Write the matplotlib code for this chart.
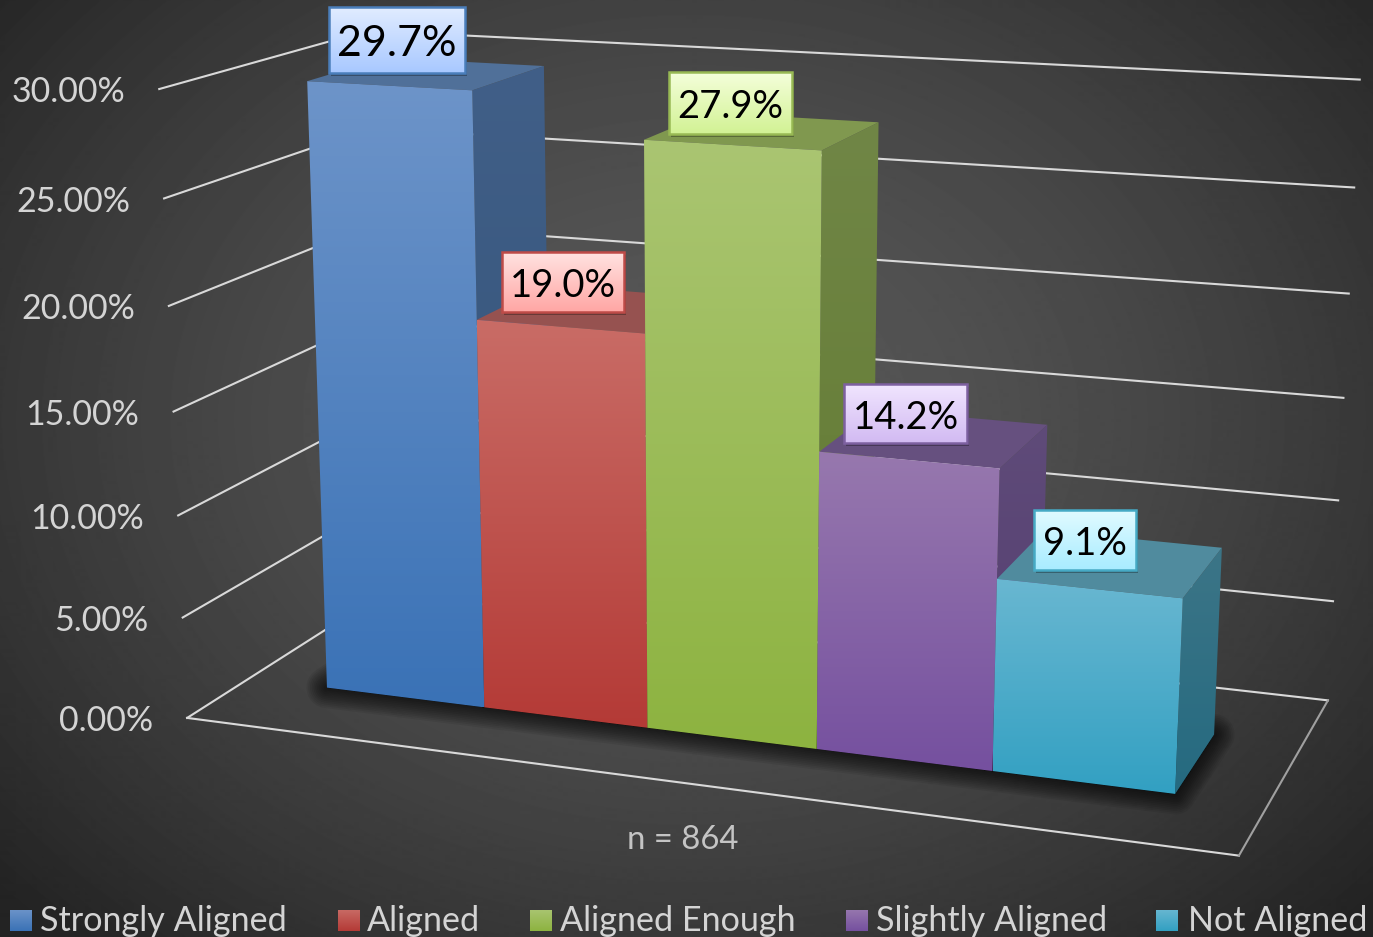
import numpy as np
import matplotlib
matplotlib.use("Agg")
import matplotlib.pyplot as plt
from matplotlib.colors import to_rgb
from matplotlib.patches import Polygon, Rectangle

plt.rcParams['font.family'] = ['Lato', 'DejaVu Sans']

categories = ["Strongly Aligned", "Aligned", "Aligned Enough", "Slightly Aligned", "Not Aligned"]
values = [29.7, 19.0, 27.9, 14.2, 9.1]
value_labels = ["29.7%", "19.0%", "27.9%", "14.2%", "9.1%"]
ticks = [0, 5, 10, 15, 20, 25, 30]
tick_labels = ["0.00%", "5.00%", "10.00%", "15.00%", "20.00%", "25.00%", "30.00%"]
note = "n = 864"

# (front top, front bottom, side top, side bottom, top face)
bar_colors = [
    ("#6d94c9", "#3a72b6", "#415f88", "#325377", "#507099"),
    ("#c96c66", "#b43a36", "#8f3e3b", "#7f3330", "#965250"),
    ("#aac572", "#8db340", "#708646", "#627a30", "#80984f"),
    ("#9778ae", "#75509f", "#5f4b79", "#533c70", "#66507f"),
    ("#69b7d1", "#32a0c2", "#3c7587", "#256a80", "#508b9e"),
]
# (fill top, fill bottom, border)
label_colors = [
    ("#e2edff", "#a8c8ff", "#4a7ebb"),
    ("#ffe4e2", "#ffa6a4", "#be4b48"),
    ("#f5ffdc", "#d2f294", "#98b954"),
    ("#f1e6ff", "#d2baf2", "#7d60a0"),
    ("#e2fbff", "#a8ecff", "#46aac5"),
]
# box left, top, right, bottom in pixels
label_boxes = [
    (329, 7, 465, 73),
    (502, 252, 624, 312),
    (669, 72, 792, 134),
    (844, 384, 967, 443),
    (1034, 510, 1136, 570),
]
label_sizes = [31, 27.5, 27.5, 27.5, 27.5]
legend_swatch_x = [10, 338, 530, 846, 1156]
legend_text_x = [40, 367, 560, 876, 1188]

W, H = 1373, 937
BAR_X0, BAR_X1 = 0.084, 0.918
BAR_Y0, BAR_Y1 = 0.295, 0.685

# chart box corners in the picture, (x, y, value) -> pixel
anchors = [
    (0, 0, 0, 189, 716), (1, 0, 0, 1239, 857), (1, 1, 0, 1328, 699), (0, 1, 0, 381, 595),
    (0, 0, 30, 157, 90), (0, 1, 30, 370, 30), (1, 1, 30, 1359, 80),
]


def fit_projection(points):
    rows = []
    for x, y, z, u, v in points:
        z = z / 30
        u, v = u / 1000, v / 1000
        rows.append([x, y, z, 1, 0, 0, 0, 0, -u * x, -u * y, -u * z, -u])
        rows.append([0, 0, 0, 0, x, y, z, 1, -v * x, -v * y, -v * z, -v])
    return np.linalg.svd(np.array(rows))[2][-1].reshape(3, 4)


P = fit_projection(anchors)


def project(x, y, z):
    p = P @ np.array([x, y, z / 30, 1.0])
    return p[0] / p[2] * 1000, p[1] / p[2] * 1000


def gradient_face(ax, pts, c_top, c_bottom, zorder):
    pts = np.array(pts)
    x0, y0 = pts.min(axis=0)
    x1, y1 = pts.max(axis=0)
    t = np.linspace(0, 1, 128)[:, None, None]
    img = (1 - t) * np.array(to_rgb(c_top)) + t * np.array(to_rgb(c_bottom))
    im = ax.imshow(img, extent=(x0, x1, y1, y0), aspect='auto', zorder=zorder, interpolation='bilinear')
    poly = Polygon(pts, closed=True, transform=ax.transData, fc='none', ec='none')
    ax.add_patch(poly)
    im.set_clip_path(poly)


fig = plt.figure(figsize=((W + 0.2) / 100, (H + 0.2) / 100), dpi=100)
ax = fig.add_axes([0, 0, 1, 1])

# background
yy, xx = np.mgrid[0:H, 0:W]
r = np.sqrt(((xx - 690) / 900) ** 2 + ((yy - 420) / 700) ** 2)
bg = np.clip(0.345 - 0.2 * r ** 1.6, 0.14, 1)
ax.imshow(bg, cmap='gray', vmin=0, vmax=1, extent=(0, W, H, 0), aspect='auto', zorder=0)

# walls and floor
grid_color = "#d9d9d9"
for t, lab in zip(ticks, tick_labels):
    pts = [project(0, 0, t), project(0, 1, t), project(1, 1, t)]
    ax.plot(*zip(*pts), color=grid_color, lw=1.5, zorder=1)
    fx, fy = project(0, 0, t)
    ax.text(fx - 34, fy + 3, lab, color="#d4d4d4", fontsize=24.5, ha='right', va='center', zorder=1)
floor = [project(0, 0, 0), project(1, 0, 0)]
ax.plot(*zip(*floor), color=grid_color, lw=1.5, zorder=1)
ax.plot(*zip(project(1, 0, 0), project(1, 1, 0)), color="#a0a0a0", lw=1.5, zorder=1)

# bars
n = len(values)
width = (BAR_X1 - BAR_X0) / n
shadow = [project(BAR_X0, BAR_Y0, 0), project(BAR_X1, BAR_Y0, 0),
          project(BAR_X1, BAR_Y1, 0), project(BAR_X0, BAR_Y1, 0)]
for k in range(12):
    ax.add_patch(Polygon(shadow, closed=True, fc=(0, 0, 0, 0.07), ec=(0, 0, 0, 0.07),
                         lw=2 + k * 2.5, joinstyle='round', zorder=2))

z = 3
for i, (val, cols) in enumerate(zip(values, bar_colors)):
    xl = BAR_X0 + i * width
    xr = xl + width
    side = [project(xr, BAR_Y0, val), project(xr, BAR_Y1, val), project(xr, BAR_Y1, 0), project(xr, BAR_Y0, 0)]
    gradient_face(ax, side, cols[2], cols[3], z)
    top = [project(xl, BAR_Y0, val), project(xr, BAR_Y0, val), project(xr, BAR_Y1, val), project(xl, BAR_Y1, val)]
    ax.add_patch(Polygon(top, closed=True, fc=cols[4], ec='none', zorder=z + 1))
    front = [project(xl, BAR_Y0, val), project(xr, BAR_Y0, val), project(xr, BAR_Y0, 0), project(xl, BAR_Y0, 0)]
    gradient_face(ax, front, cols[0], cols[1], z + 2)
    z += 3

# data labels
for lab, box, cols, size in zip(value_labels, label_boxes, label_colors, label_sizes):
    x0, y0, x1, y1 = box
    ax.add_patch(Rectangle((x0 + 2, y0 + 3), x1 - x0, y1 - y0, fc=(0, 0, 0, 0.3), ec='none', zorder=40))
    gradient_face(ax, [(x0, y0), (x1, y0), (x1, y1), (x0, y1)], cols[0], cols[1], 41)
    ax.add_patch(Rectangle((x0, y0), x1 - x0, y1 - y0, fc='none', ec=cols[2], lw=1.8, zorder=42))
    ax.text((x0 + x1) / 2, (y0 + y1) / 2 + 4, lab, color="black", fontsize=size, ha='center', va='center', zorder=43)

ax.text(683, 840, note, color="#c4c4c4", fontsize=23.7, ha='center', va='center', zorder=50)

# legend
for name, sx, tx, cols in zip(categories, legend_swatch_x, legend_text_x, bar_colors):
    gradient_face(ax, [(sx, 910), (sx + 22, 910), (sx + 22, 931), (sx, 931)], cols[0], cols[1], 50)
    ax.text(tx, 931, name, color="#d4d4d4", fontsize=24.6, ha='left', va='baseline', zorder=50)

ax.set_xlim(0, W)
ax.set_ylim(H, 0)
ax.axis('off')
fig.savefig("out.png", dpi=100)
